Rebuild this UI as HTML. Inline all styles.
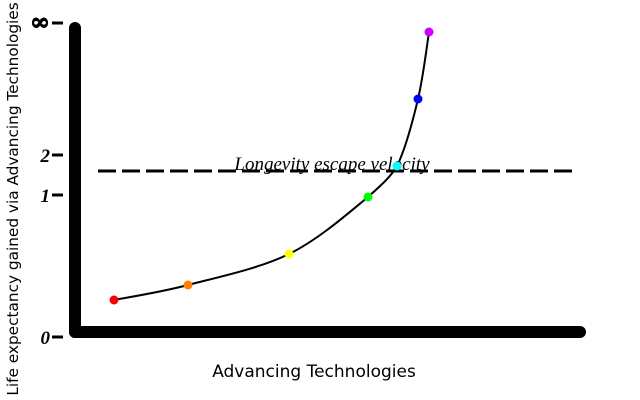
<!DOCTYPE html>
<html><head><meta charset="utf-8"><style>html,body{margin:0;padding:0;background:#fff;}svg{display:block}</style></head>
<body>
<svg width="640" height="400" viewBox="0 0 640 400" xmlns="http://www.w3.org/2000/svg">
<rect width="640" height="400" fill="#fff"/>
<line x1="75" y1="28" x2="75" y2="332" stroke="#000" stroke-width="12" stroke-linecap="round"/>
<line x1="75" y1="332" x2="580" y2="332" stroke="#000" stroke-width="12" stroke-linecap="round"/>
<g stroke="#000" stroke-width="3">
<line x1="52" y1="23" x2="63" y2="23"/>
<line x1="52" y1="155" x2="63" y2="155"/>
<line x1="52" y1="195" x2="63" y2="195"/>
<line x1="52" y1="337" x2="63" y2="337"/>
</g>
<g font-family="Liberation Serif, serif" font-style="italic" font-weight="bold" font-size="19" text-anchor="end">
<text x="50" y="30" font-family="DejaVu Serif, serif" font-size="24" stroke="#000" stroke-width="1">∞</text>
<text x="50" y="162">2</text>
<text x="50" y="202">1</text>
<text x="50" y="344">0</text>
</g>
<line x1="98" y1="171" x2="576" y2="171" stroke="#000" stroke-width="3" stroke-dasharray="18,6"/>
<text x="332" y="170" font-family="Liberation Serif, serif" font-style="italic" font-size="19" text-anchor="middle">Longevity escape velocity</text>
<path d="M114,300 C126.3,297.5 158.8,292.7 188,285 C217.2,277.3 259,268.7 289,254 C319,239.3 350,211.7 368,197 C378,188 391,177 397,166 C405,150 412.7,121.3 418,99 C423.3,76.7 427.2,43.2 429,32" fill="none" stroke="#000" stroke-width="2"/>
<circle cx="114" cy="300" r="4.5" fill="#ff0000"/>
<circle cx="188" cy="285" r="4.5" fill="#ff8000"/>
<circle cx="289" cy="254" r="4.5" fill="#ffff00"/>
<circle cx="368" cy="197" r="4.5" fill="#00ff00"/>
<circle cx="397" cy="166" r="4.5" fill="#00ffff"/>
<circle cx="418" cy="99" r="4.5" fill="#0000ff"/>
<circle cx="429" cy="32" r="4.5" fill="#cc00ff"/>
<text x="314" y="377" font-family="DejaVu Sans, sans-serif" font-size="17" text-anchor="middle">Advancing Technologies</text>
<text transform="translate(18,199) rotate(-90)" font-family="DejaVu Sans, sans-serif" font-size="15.3" text-anchor="middle">Life expectancy gained via Advancing Technologies</text>
</svg>
</body></html>
